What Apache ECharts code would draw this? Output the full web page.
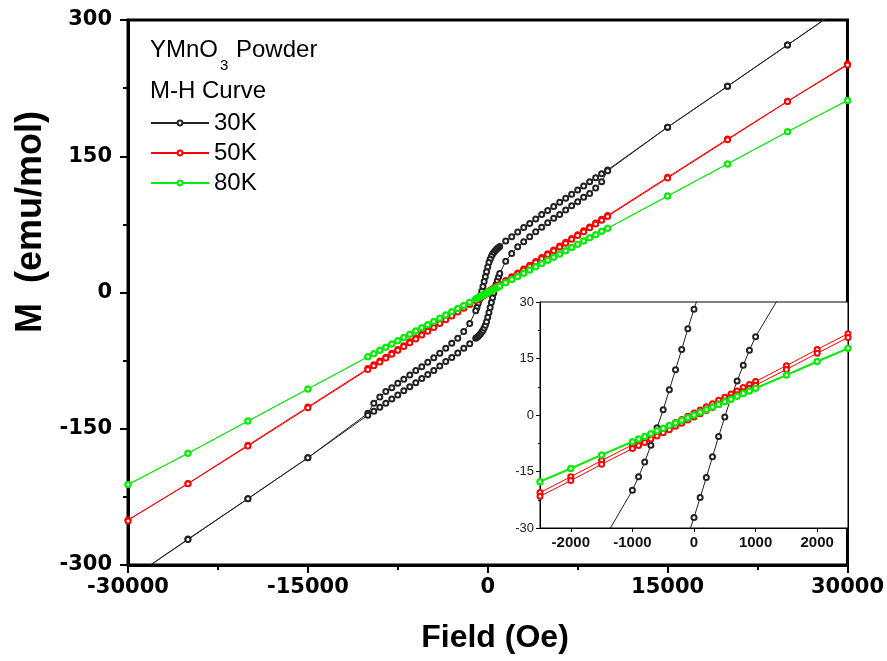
<!DOCTYPE html>
<html>
<head>
<meta charset="utf-8">
<script src="https://cdn.jsdelivr.net/npm/echarts@6/dist/echarts.min.js"></script>
<style>
  html, body { margin: 0; padding: 0; background: #fff; }
  #chart { width: 887px; height: 661px; }
</style>
</head>
<body>
<div id="chart"></div>
<script>
// Field sweep: +30 kOe down to -30 kOe, then back up
const FIELD_DOWN = [30000,25000,20000,15000,10000,9500,9000,8500,8000,7500,7000,6500,6000,5500,5000,4500,4000,3500,3000,2500,2000,1500,
  1000,900,800,700,600,500,400,300,200,100,0,-100,-200,-300,-400,-500,-600,-700,-800,-900,-1000,
  -1500,-2000,-2500,-3000,-3500,-4000,-4500,-5000,-5500,-6000,-6500,-7000,-7500,-8000,-8500,-9000,-9500,-10000,-15000,-20000,-25000,-30000];
const FIELD_UP = [-30000,-25000,-20000,-15000,-10000,-9500,-9000,-8500,-8000,-7500,-7000,-6500,-6000,-5500,-5000,-4500,-4000,-3500,-3000,-2500,-2000,-1500,
  -1000,-900,-800,-700,-600,-500,-400,-300,-200,-100,0,100,200,300,400,500,600,700,800,900,1000,
  1500,2000,2500,3000,3500,4000,4500,5000,5500,6000,6500,7000,7500,8000,8500,9000,9500,10000,15000,20000,25000,30000];

// Magnetization (emu/mol), 30 K
const M30_DOWN = [318,272.5,227,182,135,130.6,126.3,121.8,117.3,112.8,108.3,103.8,99.3,94.8,90.3,85.8,81,76,71.5,66.5,61.5,56.6,
  50.6,49.6,48.5,47.2,45.7,44,42,39.5,36.5,33,28.1,22.9,17.4,12,6.7,1.4,-3.4,-8,-12.5,-16.4,-20,
  -34,-43,-50.5,-56,-61.5,-67,-71.8,-76.9,-81.7,-86,-90.9,-95.6,-100,-104.8,-109,-115,-122,-133,-182,-227,-271.5,-317];
const M30_UP = [-317.5,-272,-227,-182,-135,-130.6,-126.3,-121.8,-117.3,-112.8,-108.3,-103.8,-99.3,-94.8,-90.3,-85.8,-81,-76,-71.5,-66.5,-61.3,-56.5,
  -50.4,-49.4,-48.3,-47,-45.4,-43.6,-41.5,-39,-36,-32.2,-27.2,-21.9,-16.6,-11.1,-5.7,-0.5,4.6,9,13.2,17.2,20.8,
  34.5,43,50.5,56,61.5,67,71.8,76.9,81.7,86,90.9,95.6,100,104.8,109,115,122,134,182,227,272.5,318];

// 50 K
const M50_DOWN = [251.5,210.5,169.0,127.0,84.8,80.6,76.4,72.2,67.9,63.7,59.5,55.3,51.1,46.9,42.7,38.4,34.2,30.0,25.8,21.6,17.4,13.1,
  8.9,8.1,7.3,6.4,5.6,4.7,3.9,3.0,2.2,1.3,0.5,-0.3,-1.2,-2.0,-2.9,-3.7,-4.6,-5.4,-6.2,-7.1,-7.9,
  -12.1,-16.4,-20.6,-24.8,-29.0,-33.2,-37.4,-41.7,-45.9,-50.1,-54.3,-58.5,-62.7,-67.0,-71.2,-75.4,-79.6,-83.8,-126.0,-168.1,-210.3,-250.5];
const M50_UP = [-251.5,-210.5,-169.0,-127.0,-84.8,-80.6,-76.4,-72.2,-67.9,-63.7,-59.5,-55.3,-51.1,-46.9,-42.7,-38.4,-34.2,-30.0,-25.8,-21.6,-17.4,-13.1,
  -8.9,-8.1,-7.3,-6.4,-5.6,-4.7,-3.9,-3.0,-2.2,-1.3,-0.5,0.3,1.2,2.0,2.9,3.7,4.6,5.4,6.2,7.1,7.9,
  12.1,16.4,20.6,24.8,29.0,33.2,37.4,41.7,45.9,50.1,54.3,58.5,62.7,67.0,71.2,75.4,79.6,83.8,126.0,168.1,210.3,250.5];

// 80 K
const M80_DOWN = [211.5,177.0,141.6,106.2,70.8,67.3,63.7,60.2,56.6,53.1,49.6,46.0,42.5,38.9,35.4,31.9,28.3,24.8,21.2,17.7,14.2,10.6,
  7.1,6.4,5.7,5.0,4.2,3.5,2.8,2.1,1.4,0.7,0,-0.7,-1.4,-2.1,-2.8,-3.5,-4.2,-5.0,-5.7,-6.4,-7.1,
  -10.6,-14.2,-17.7,-21.2,-24.8,-28.3,-31.9,-35.4,-38.9,-42.5,-46.0,-49.6,-53.1,-56.6,-60.2,-63.7,-67.3,-70.8,-106.2,-141.6,-177.0,-211.5];
const M80_UP = [-211.5,-177.0,-141.6,-106.2,-70.8,-67.3,-63.7,-60.2,-56.6,-53.1,-49.6,-46.0,-42.5,-38.9,-35.4,-31.9,-28.3,-24.8,-21.2,-17.7,-14.2,-10.6,
  -7.1,-6.4,-5.7,-5.0,-4.2,-3.5,-2.8,-2.1,-1.4,-0.7,0,0.7,1.4,2.1,2.8,3.5,4.2,5.0,5.7,6.4,7.1,
  10.6,14.2,17.7,21.2,24.8,28.3,31.9,35.4,38.9,42.5,46.0,49.6,53.1,56.6,60.2,63.7,67.3,70.8,106.2,141.6,177.0,211.5];

const SERIES_NAMES = ['30K', '50K', '80K'];
const SERIES_COLORS = ['#222222', '#ff0000', '#00ee00'];

// Main axes ticks
const MAIN_X_TICKS = [-30000, -15000, 0, 15000, 30000];
const MAIN_Y_TICKS = [-300, -150, 0, 150, 300];
// Inset axes ticks
const INSET_X_TICKS = [-2000, -1000, 0, 1000, 2000];
const INSET_Y_TICKS = [-30, -15, 0, 15, 30];

function loop(down, up) {
  const pts = [];
  FIELD_DOWN.forEach((h, i) => pts.push([h, down[i]]));
  FIELD_UP.forEach((h, i) => pts.push([h, up[i]]));
  return pts;
}
const LOOPS = [loop(M30_DOWN, M30_UP), loop(M50_DOWN, M50_UP), loop(M80_DOWN, M80_UP)];

const chart = echarts.init(document.getElementById('chart'), null, { renderer: 'canvas' });

const plain = v => String(v);
const tickFont = { fontFamily: 'DejaVu Sans', fontWeight: 'bold', fontSize: 21, color: '#000', formatter: plain };

const series = [];
LOOPS.forEach((data, k) => {
  series.push({
    name: SERIES_NAMES[k], type: 'line', xAxisIndex: 0, yAxisIndex: 0,
    data: data, symbol: 'emptyCircle', symbolSize: 5, showAllSymbol: true,
    itemStyle: { color: SERIES_COLORS[k], borderWidth: 1 },
    lineStyle: { color: SERIES_COLORS[k], width: 1 },
    clip: true, silent: true, z: 2 + k
  });
});
LOOPS.forEach((data, k) => {
  series.push({
    name: SERIES_NAMES[k], type: 'line', xAxisIndex: 1, yAxisIndex: 1,
    data: data, symbol: 'emptyCircle', symbolSize: 5, showAllSymbol: true,
    itemStyle: { color: SERIES_COLORS[k], borderWidth: 1.2 },
    lineStyle: { color: SERIES_COLORS[k], width: k === 2 ? 2 : 1 },
    clip: true, silent: true, legendHoverLink: false, z: 12 + k
  });
});

chart.setOption({
  backgroundColor: '#ffffff',
  animation: false,
  grid: [
    { left: 128, top: 20, width: 720, height: 545, show: true, borderColor: '#000', borderWidth: 3, backgroundColor: 'transparent', z: 0 },
    { left: 540, top: 302, width: 308, height: 226, show: true, borderColor: '#000', borderWidth: 1, backgroundColor: '#fff', z: 10 }
  ],
  xAxis: [
    {
      type: 'value', gridIndex: 0, min: MAIN_X_TICKS[0], max: MAIN_X_TICKS[4], interval: 15000,
      axisLine: { onZero: false, lineStyle: { color: '#000', width: 3 } },
      axisTick: { inside: false, length: 8, lineStyle: { color: '#000', width: 2 } },
      minorTick: { show: true, splitNumber: 2, length: 5, lineStyle: { color: '#000', width: 2 } },
      splitLine: { show: false },
      axisLabel: Object.assign({ margin: 12, customValues: MAIN_X_TICKS }, tickFont)
    },
    {
      type: 'value', gridIndex: 1, min: -2500, max: 2500,
      axisLine: { onZero: false, lineStyle: { color: '#000', width: 1 } },
      axisTick: { inside: false, length: 4, customValues: INSET_X_TICKS, lineStyle: { color: '#000', width: 1 } },
      splitLine: { show: false },
      axisLabel: { margin: 7, customValues: INSET_X_TICKS, formatter: plain, fontFamily: 'Liberation Sans', fontWeight: 'bold', fontSize: 15, color: '#111' },
      z: 11
    }
  ],
  yAxis: [
    {
      type: 'value', gridIndex: 0, min: MAIN_Y_TICKS[0], max: MAIN_Y_TICKS[4], interval: 150,
      axisLine: { onZero: false, lineStyle: { color: '#000', width: 3 } },
      axisTick: { inside: false, length: 8, lineStyle: { color: '#000', width: 2 } },
      minorTick: { show: true, splitNumber: 2, length: 5, lineStyle: { color: '#000', width: 2 } },
      splitLine: { show: false },
      axisLabel: Object.assign({ margin: 16, customValues: MAIN_Y_TICKS }, tickFont)
    },
    {
      type: 'value', gridIndex: 1, min: INSET_Y_TICKS[0], max: INSET_Y_TICKS[4], interval: 15,
      axisLine: { onZero: false, lineStyle: { color: '#000', width: 1 } },
      axisTick: { inside: false, length: 4, lineStyle: { color: '#000', width: 1 } },
      minorTick: { show: true, splitNumber: 2, length: 2, lineStyle: { color: '#000', width: 1 } },
      splitLine: { show: false },
      axisLabel: { margin: 6, formatter: plain, fontFamily: 'Liberation Sans', fontSize: 13, color: '#222' },
      z: 11
    }
  ],
  legend: {
    data: SERIES_NAMES,
    orient: 'vertical', left: 150, top: 111, padding: 0,
    itemWidth: 58, itemHeight: 6, itemGap: 6,
    textStyle: { fontFamily: 'Liberation Sans', fontSize: 24, lineHeight: 24, color: '#000' },
    selectedMode: false
  },
  graphic: [
    { type: 'text', left: 150, top: 38, style: { text: 'YMnO', font: '24px "Liberation Sans"', fill: '#000' } },
    { type: 'text', left: 220, top: 58, style: { text: '3', font: '15px "Liberation Sans"', fill: '#000' } },
    { type: 'text', left: 236, top: 38, style: { text: 'Powder', font: '24px "Liberation Sans"', fill: '#000' } },
    { type: 'text', left: 150, top: 79, style: { text: 'M-H Curve', font: '24px "Liberation Sans"', fill: '#000' } },
    { type: 'text', x: 31, y: 222, rotation: Math.PI / 2,
      style: { text: 'M  (emu/mol)', font: 'bold 36px "Liberation Sans"', fill: '#000', textAlign: 'center', textVerticalAlign: 'middle' } },
    { type: 'text', x: 495, y: 638,
      style: { text: 'Field (Oe)', font: 'bold 32px "Liberation Sans"', fill: '#000', textAlign: 'center', textVerticalAlign: 'middle' } }
  ],
  series: series
});
</script>
</body>
</html>
